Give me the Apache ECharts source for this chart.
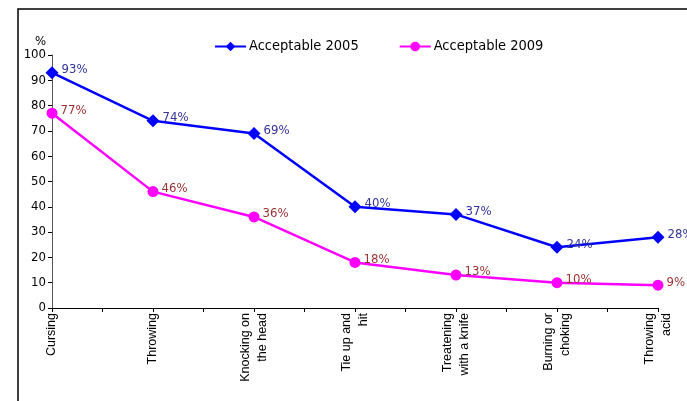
<!DOCTYPE html>
<html><head><meta charset="utf-8">
<script src="https://cdn.jsdelivr.net/npm/echarts@6/dist/echarts.min.js"></script>
<style>html,body{margin:0;padding:0;background:#fff}#c{width:687px;height:401px}</style>
</head><body><div id="c"></div>
<script>
const categories = ["Cursing","Throwing","Knocking on\nthe head","Tie up and\nhit","Treatening\nwith a knife","Burning or\nchoking","Throwing\nacid"];
const acceptable2005 = [93,74,69,40,37,24,28];
const acceptable2009 = [77,46,36,18,13,10,9];
const yTicks = [0,10,20,30,40,50,60,70,80,90,100];

const narrow = '"DejaVu Sans Condensed","Liberation Sans Narrow","Arial Narrow",sans-serif';
const chart = echarts.init(document.getElementById('c'), null, {renderer:'canvas'});
chart.setOption({
  animation:false,
  graphic:[{type:'rect',shape:{x:18,y:9,width:720,height:420},style:{fill:'none',stroke:'#000',lineWidth:1.5},z:-1}],
  grid:{left:52,right:29,top:55,bottom:93},
  legend:{top:34,left:209,itemGap:40,itemWidth:31,itemHeight:12,
    textStyle:{fontFamily:narrow,fontSize:14.5,color:'#000',padding:[0,0,0,-2]},
    data:['Acceptable 2005','Acceptable 2009']},
  xAxis:{type:'value',min:0,max:categories.length-1,interval:0.5,
    splitLine:{show:false},
    axisLine:{lineStyle:{color:'#000',width:1}},
    axisTick:{length:4,lineStyle:{color:'#000'}},
    axisLabel:{rotate:90,margin:5,fontFamily:'"Liberation Sans",Arial,sans-serif',fontSize:12.5,lineHeight:17,color:'#000',align:'right',
      formatter:v=>Number.isInteger(v)?categories[v]:''}},
  yAxis:{type:'value',min:0,max:100,interval:10,name:'%',nameGap:6,
    nameTextStyle:{fontFamily:narrow,fontSize:13,color:'#000',align:'right',padding:[0,6,0,0]},
    splitLine:{show:false},
    axisLine:{show:true,lineStyle:{color:'#555',width:1}},
    axisTick:{show:true,inside:false,length:4,lineStyle:{color:'#000'}},
    axisLabel:{margin:6,fontFamily:narrow,fontSize:13,color:'#000',
      formatter:v=>yTicks.includes(v)?String(v):''}},
  series:[
    {name:'Acceptable 2005',type:'line',data:acceptable2005.map((v,i)=>[i,v]),
     symbol:'diamond',symbolSize:13,
     lineStyle:{color:'#0000FF',width:2.5},itemStyle:{color:'#0000FF'},
     label:{show:true,position:'right',distance:3,offset:[0,-3],formatter:p=>p.value[1]+'%',
       fontFamily:narrow,fontSize:13,color:'#333399'}},
    {name:'Acceptable 2009',type:'line',data:acceptable2009.map((v,i)=>[i,v]),
     symbol:'circle',symbolSize:11,
     lineStyle:{color:'#FF00FF',width:2.5},itemStyle:{color:'#FF00FF'},
     label:{show:true,position:'right',distance:3,offset:[0,-3],formatter:p=>p.value[1]+'%',
       fontFamily:narrow,fontSize:13,color:'#993333'}}
  ]
});
</script></body></html>
